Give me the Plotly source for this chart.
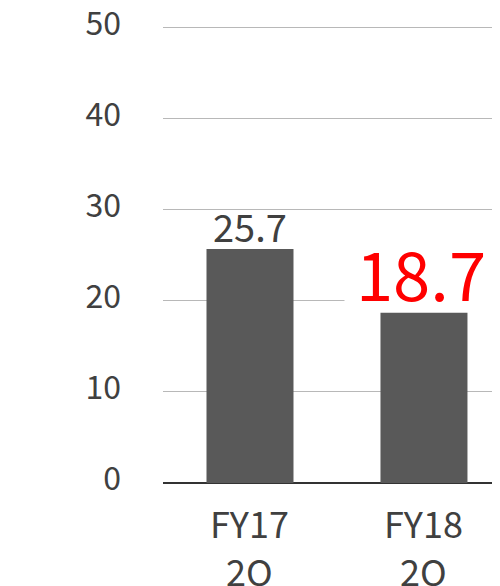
import plotly.graph_objects as go

categories = ["FY17 2Q", "FY18 2Q"]
line1 = ["FY17", "FY18"]
line2 = ["2Q", "2Q"]
values = [25.7, 18.7]
label_colors = ["#404040", "#ff0000"]
label_sizes = [38, 67]
yticks = [0, 10, 20, 30, 40, 50]

FONT = "Noto Sans CJK JP, Noto Sans, sans-serif"

fig = go.Figure()
fig.add_trace(go.Bar(x=categories, y=values, width=0.5,
                     marker=dict(color="#595959", line=dict(width=0)),
                     hoverinfo="skip"))

annotations = []
# small label on first bar
annotations.append(dict(x=categories[0], y=values[0], xref="x", yref="y",
                        text=f"{values[0]:.1f}", showarrow=False,
                        yanchor="bottom", xanchor="center", yshift=-6,
                        font=dict(family=FONT, size=label_sizes[0], color=label_colors[0])))
# highlighted label on second bar, with white box breaking the gridline
annotations.append(dict(x=categories[1], y=values[1], xref="x", yref="y",
                        text=f"{values[1]:.1f}", showarrow=False,
                        yanchor="bottom", xanchor="center", yshift=1, xshift=-3,
                        width=152, height=88, valign="top",
                        borderpad=0, bgcolor="white",
                        font=dict(family=FONT, size=label_sizes[1], color=label_colors[1])))
for c, a, b in zip(categories, line1, line2):
    annotations.append(dict(x=c, y=0, xref="x", yref="paper", text=a, showarrow=False,
                            yanchor="middle", yshift=-39,
                            font=dict(family=FONT, size=36, color="#404040")))
    annotations.append(dict(x=c, y=0, xref="x", yref="paper", text=b, showarrow=False,
                            yanchor="middle", yshift=-87,
                            font=dict(family=FONT, size=36, color="#404040")))

fig.update_layout(
    width=492, height=578,
    margin=dict(l=155, r=0, t=15, b=103, autoexpand=False),
    paper_bgcolor="white", plot_bgcolor="white",
    showlegend=False,
    annotations=annotations,
    xaxis=dict(range=[-0.5, 1.437], showticklabels=False, showgrid=False,
               zeroline=False, showline=False, ticks="", automargin=False),
    yaxis=dict(range=[0, 50.5], tickvals=yticks, showgrid=True, gridcolor="#b8b8b8",
               gridwidth=1, zeroline=True, zerolinecolor="#333333", zerolinewidth=2,
               showline=False, ticks="", ticklabelstandoff=41, automargin=False,
               ticklabeloverflow="allow", ticklabelshift=-4,
               tickfont=dict(family=FONT, size=32, color="#404040")),
)

fig.write_html("out.html")
